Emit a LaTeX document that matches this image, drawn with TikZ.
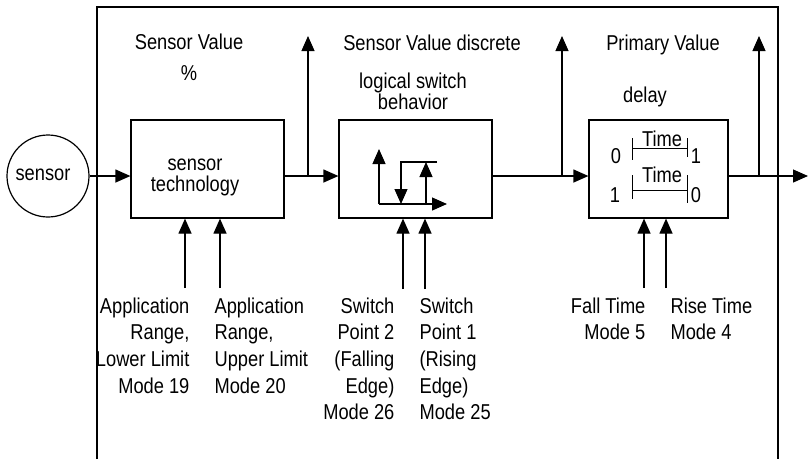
\documentclass[tikz,border=0pt]{standalone}
\usepackage{fontspec}
\setmainfont{Liberation Sans}[FakeStretch=0.85]
\usetikzlibrary{arrows.meta}
\begin{document}
\begin{tikzpicture}[x=1pt,y=-1pt, line width=1.2pt,
  arr/.style={-{Triangle[length=15pt,width=13pt]}},
  blk/.style={draw, rectangle, inner sep=0pt, minimum height=98pt},
  txt/.style={font=\fontsize{21.5}{20.5}\selectfont, inner sep=0pt},
  lbl/.style={font=\fontsize{21.5}{26.7}\selectfont, inner sep=0pt},
  thin/.style={line width=1pt}]
\useasboundingbox (0,0) rectangle (809,459);

% frame
\draw (97,459) -- (97,7) -- (778,7) -- (778,459);

% main line reference
\coordinate (m) at (0,176);

% sensor
\node[draw, circle, minimum size=82pt, inner sep=0pt] (circ) at (48,176) {};
\node[txt, anchor=base] (sensortxt) at (43,180) {sensor};

% blocks
\node[blk, minimum width=153pt] (b1) at (207.5,169) {};
\node[blk, minimum width=153pt] (b2) at (415.5,169) {};
\node[blk, minimum width=139pt] (b3) at (658.5,169) {};

\node[txt, align=center, anchor=north, font=\fontsize{21.5}{21.5}\selectfont] (b1txt) at (195,158.2) {sensor\\technology};
\node[txt, align=center, anchor=north] (b2txt) at (413,72.6) {logical switch\\behavior};
\node[txt, anchor=base] (b3txt) at (645,102) {delay};

% top labels
\node[txt, anchor=base] (sv) at (189,49) {Sensor Value};
\node[txt, anchor=base] (pct) at (189,80) {\%};
\node[txt, anchor=base] (svd) at (432,50) {Sensor Value discrete};
\node[txt, anchor=base] (pv) at (663,50) {Primary Value};

% main connectors
\draw[arr] (circ.east) -- (m -| b1.west);
\draw[arr] (m -| b1.east) -- (m -| b2.west);
\draw[arr] (m -| b2.east) -- (m -| b3.west);
\coordinate (out) at (808,176);
\draw[arr] (m -| b3.east) -- (out);

% branches up
\coordinate (j1) at (308,176); \coordinate (t1) at (308,36);
\coordinate (j2) at (562,176); \coordinate (t2) at (562,36);
\coordinate (j3) at (759,176); \coordinate (t3) at (759,36);
\draw[arr] (j1) -- (t1);
\draw[arr] (j2) -- (t2);
\draw[arr] (j3) -- (t3);

% inputs from below
\coordinate (i1) at (185,288);
\coordinate (i2) at (220,288);
\coordinate (i3) at (403,289);
\coordinate (i4) at (425,289);
\coordinate (i5) at (644,288);
\coordinate (i6) at (666,288);
\draw[arr] (i1) -- (i1 |- b1.south);
\draw[arr] (i2) -- (i2 |- b1.south);
\draw[arr] (i3) -- (i3 |- b2.south);
\draw[arr] (i4) -- (i4 |- b2.south);
\draw[arr] (i5) -- (i5 |- b3.south);
\draw[arr] (i6) -- (i6 |- b3.south);

% bottom labels
\node[lbl, align=right, anchor=north east] (l1) at (190,297) {Application\\Range,\\Lower Limit\\Mode 19};
\node[lbl, align=left, anchor=north west] (l2) at (214,297) {Application\\Range,\\Upper Limit\\Mode 20};
\node[lbl, align=right, anchor=north east] (l3) at (395,297) {Switch\\Point 2\\(Falling\\Edge)\\Mode 26};
\node[lbl, align=left, anchor=north west] (l4) at (419,297) {Switch\\Point 1\\(Rising\\Edge)\\Mode 25};
\node[lbl, align=right, anchor=north east] (l5) at (646,297) {Fall Time\\Mode 5};
\node[lbl, align=left, anchor=north west] (l6) at (670,297) {Rise Time\\Mode 4};

% hysteresis symbol
\draw[arr] (379,204) -- (379,149);
\draw[arr] (379,204) -- (447,204);
\draw[arr] (437,162) -- (401,162) -- (401,204);
\draw[arr] (426,204) -- (426,162);

% delay symbol
\draw[thin] (632,138) -- (632,160);
\draw[thin] (632,148) -- (687,148);
\draw[thin] (687,138) -- (687,157);
\draw[thin] (632,175) -- (632,199);
\draw[thin] (632,190) -- (687,190);
\draw[thin] (687,175) -- (687,203);
\node[txt, anchor=base] (d0a) at (616,163) {0};
\node[txt, anchor=base] (d1a) at (696,163) {1};
\node[txt, anchor=base] (dta) at (662,146) {Time};
\node[txt, anchor=base] (d1b) at (615,202) {1};
\node[txt, anchor=base] (d0b) at (696,202) {0};
\node[txt, anchor=base] (dtb) at (662,182) {Time};
\end{tikzpicture}
\end{document}
